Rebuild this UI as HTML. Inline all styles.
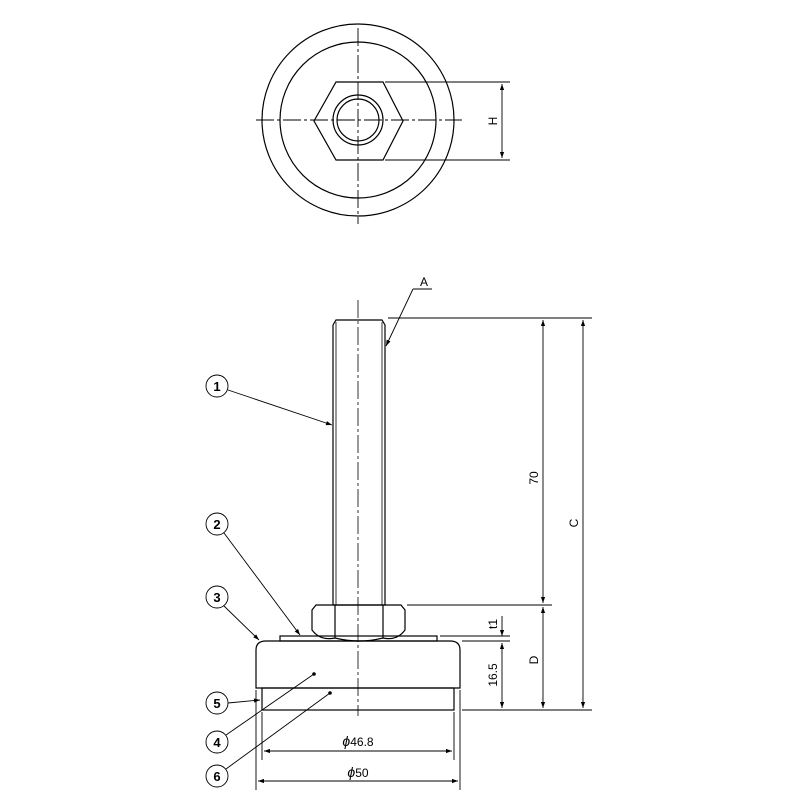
<!DOCTYPE html>
<html><head><style>body{margin:0;background:#fff}svg{display:block}</style></head><body>
<svg width="800" height="800" viewBox="0 0 800 800" xmlns="http://www.w3.org/2000/svg" font-family="Liberation Sans, sans-serif">
<defs><marker id="a" viewBox="0 0 10 10" refX="10" refY="5" markerWidth="8" markerHeight="6" orient="auto-start-reverse" markerUnits="userSpaceOnUse"><path d="M0,1.5 L10,5 L0,8.5 z" fill="#000"/></marker></defs>
<g stroke="#000" fill="none" stroke-width="1.2">
<circle cx="358" cy="120" r="96"/>
<circle cx="358" cy="120" r="78"/>
<polygon points="336,82 383,82 403,121 383,160 336,160 314,121"/>
<circle cx="358" cy="120" r="25"/>
<circle cx="358" cy="120" r="21"/>
<g stroke-dasharray="18,3,3,3" stroke-width="0.9"><line x1="256" y1="120" x2="462" y2="120"/><line x1="358" y1="28" x2="358" y2="224"/></g>
<line x1="385" y1="82" x2="510" y2="82" stroke-width="0.9"/><line x1="385" y1="160" x2="510" y2="160" stroke-width="0.9"/>
<line x1="502" y1="84" x2="502" y2="158" marker-start="url(#a)" marker-end="url(#a)" stroke-width="0.9"/>
<path d="M333,325 L336,320 L382,320 L385,325 L385,605 L333,605 Z"/>
<line x1="336" y1="322" x2="336" y2="605" stroke-width="0.8"/><line x1="382" y1="322" x2="382" y2="605" stroke-width="0.8"/>
<path d="M316,605 L401,605 L405,610 L405,630 Q397,641 383,638 Q359,644 335,638 Q320,641 312,630 L312,610 Z"/>
<line x1="335" y1="605" x2="335" y2="638"/><line x1="383" y1="605" x2="383" y2="638"/>
<rect x="280" y="636" width="157" height="5"/>
<path d="M256,688 L256,650 Q256,641 266,641 L450,641 Q460,641 460,650 L460,688 Z"/>
<rect x="262" y="688" width="192" height="22"/>
<line x1="358" y1="300" x2="358" y2="716" stroke-dasharray="18,3,3,3" stroke-width="0.8"/>
<g stroke-width="0.9">
<line x1="388" y1="318" x2="592" y2="318"/><line x1="407" y1="605" x2="552" y2="605"/>
<line x1="440" y1="636" x2="510" y2="636"/><line x1="462" y1="641" x2="510" y2="641"/>
<line x1="462" y1="710" x2="592" y2="710"/>
<line x1="543" y1="320" x2="543" y2="603" marker-start="url(#a)" marker-end="url(#a)"/>
<line x1="583" y1="320" x2="583" y2="708" marker-start="url(#a)" marker-end="url(#a)"/>
<line x1="543" y1="607" x2="543" y2="708" marker-start="url(#a)" marker-end="url(#a)"/>
<line x1="502" y1="616" x2="502" y2="636" marker-end="url(#a)"/>
<line x1="502" y1="643" x2="502" y2="708" marker-start="url(#a)" marker-end="url(#a)"/>
<line x1="256" y1="690" x2="256" y2="790"/><line x1="460" y1="690" x2="460" y2="790"/>
<line x1="262" y1="712" x2="262" y2="760"/><line x1="454" y1="712" x2="454" y2="760"/>
<line x1="264" y1="751" x2="452" y2="751" marker-start="url(#a)" marker-end="url(#a)"/>
<line x1="258" y1="781" x2="458" y2="781" marker-start="url(#a)" marker-end="url(#a)"/>
<circle cx="217" cy="386" r="11"/><circle cx="217" cy="524" r="11"/><circle cx="217" cy="597" r="11"/>
<circle cx="217" cy="703" r="11"/><circle cx="217" cy="742" r="11"/><circle cx="217" cy="776" r="11"/>
<line x1="228" y1="390" x2="332" y2="425" marker-end="url(#a)"/>
<line x1="224" y1="533" x2="300" y2="635" marker-end="url(#a)"/>
<line x1="224" y1="606" x2="259" y2="640" marker-end="url(#a)"/>
<line x1="228" y1="703" x2="260" y2="700" marker-end="url(#a)"/>
<line x1="226" y1="735" x2="314" y2="674"/>
<line x1="226" y1="769" x2="330" y2="693"/>
<line x1="413" y1="289" x2="432" y2="289"/>
<line x1="413" y1="289" x2="386" y2="346" marker-end="url(#a)"/>
</g>
</g>
<circle cx="314" cy="674" r="1.8"/><circle cx="330" cy="693" r="1.8"/>
<g font-size="12" text-anchor="middle" fill="#000">
<text x="217" y="391" font-weight="bold" font-size="13">1</text>
<text x="217" y="529" font-weight="bold" font-size="13">2</text>
<text x="217" y="602" font-weight="bold" font-size="13">3</text>
<text x="217" y="708" font-weight="bold" font-size="13">5</text>
<text x="217" y="747" font-weight="bold" font-size="13">4</text>
<text x="217" y="781" font-weight="bold" font-size="13">6</text>
<text x="424" y="286">A</text>
<text x="358" y="746"><tspan font-style="italic" font-size="14">ϕ</tspan>46.8</text>
<text x="358" y="777"><tspan font-style="italic" font-size="14">ϕ</tspan>50</text>
<text transform="translate(538,478) rotate(-90)">70</text>
<text transform="translate(578,523) rotate(-90)">C</text>
<text transform="translate(538,660) rotate(-90)">D</text>
<text transform="translate(497,675) rotate(-90)">16.5</text>
<text transform="translate(497,624) rotate(-90)">t1</text>
<text transform="translate(497,121) rotate(-90)">H</text>
</g>
</svg>
</body></html>
